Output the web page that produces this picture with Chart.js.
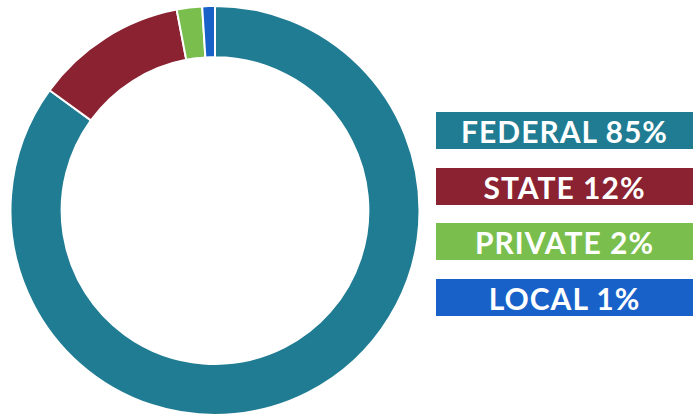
<!DOCTYPE html>
<html>
<head>
<meta charset="utf-8">
<script src="https://cdn.jsdelivr.net/npm/chart.js@4.4.0/dist/chart.umd.min.js"></script>
<style>
    html, body { margin: 0; padding: 0; background: #fff; }
    #wrap { position: relative; width: 693px; height: 419px; overflow: hidden; }
    #pie { position: absolute; left: 0; top: 0; width: 430px; height: 419px; }
    #legend { position: absolute; left: 436px; top: 112px; width: 257px; }
    .item {
        height: 37px; line-height: 38px; margin-bottom: 18.7px;
        color: #fff; text-align: center;
        font-family: Lato, sans-serif; font-weight: bold; font-size: 30px;
        letter-spacing: 1px;
    }
</style>
</head>
<body>
<div id="wrap">
    <div id="pie"><canvas id="donut"></canvas></div>
    <div id="legend"></div>
</div>
<script>
const labels = ['FEDERAL', 'STATE', 'PRIVATE', 'LOCAL'];
const shares = [85, 12, 2, 1];
const colors = ['#1f7c92', '#8a2231', '#7abf4e', '#1761c9'];

// legend boxes on the right
const legendEl = document.getElementById('legend');
labels.forEach((l, i) => {
    const d = document.createElement('div');
    d.className = 'item';
    d.style.background = colors[i];
    d.textContent = `${l} ${shares[i]}%`;
    legendEl.appendChild(d);
});

new Chart(document.getElementById('donut'), {
    type: 'doughnut',
    data: {
        labels: labels,
        datasets: [{
            data: shares,
            backgroundColor: colors,
            borderColor: '#fff',
            borderWidth: 2
        }]
    },
    options: {
        responsive: true, maintainAspectRatio: false,
        animation: false,
        cutout: '75%',
        layout: { padding: { top: 5, bottom: 3, left: 9, right: 9 } },
        plugins: { legend: { display: false }, tooltip: { enabled: false } }
    }
});
</script>
</body>
</html>
